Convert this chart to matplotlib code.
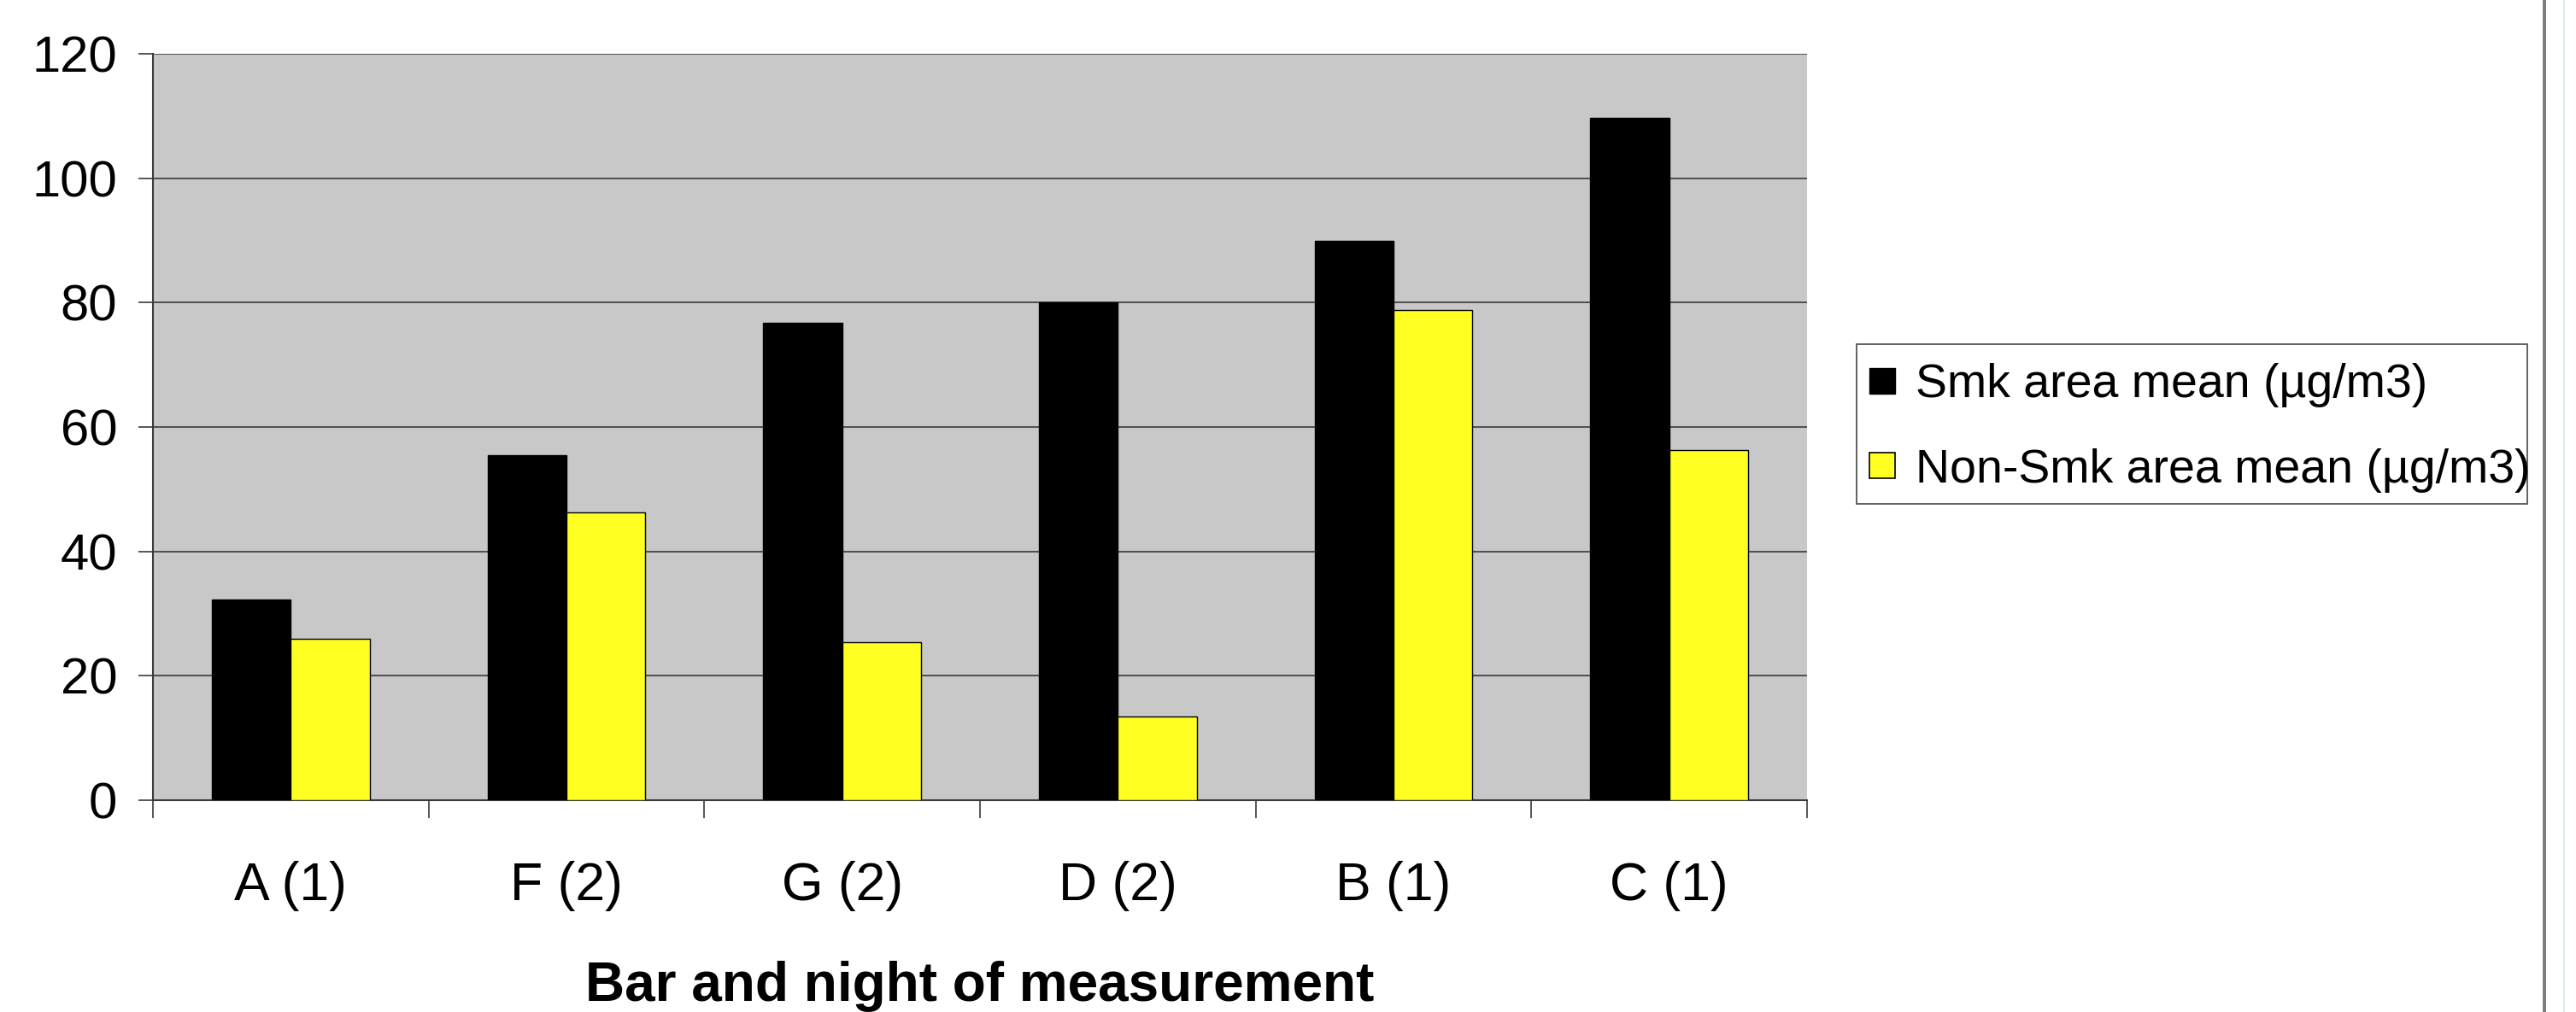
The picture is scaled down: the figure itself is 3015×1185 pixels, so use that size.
import matplotlib

matplotlib.use("Agg")
import matplotlib.pyplot as plt
import numpy as np
from matplotlib.lines import Line2D
from matplotlib.patches import Rectangle

categories = ["A (1)", "F (2)", "G (2)", "D (2)", "B (1)", "C (1)"]
smoking_means = [32.2, 55.5, 76.7, 80.1, 89.9, 109.7]
non_smoking_means = [25.9, 46.3, 25.4, 13.5, 78.8, 56.3]
series_labels = ["Smk area mean (µg/m3)", "Non-Smk area mean (µg/m3)"]
y_ticks = [0, 20, 40, 60, 80, 100, 120]

W, H = 3015, 1185


def main() -> int:
    plt.rcParams["font.family"] = ["Liberation Sans", "DejaVu Sans"]
    fig = plt.figure(figsize=(W / 100, H / 100), dpi=100)
    fig.patch.set_facecolor("white")

    ax = fig.add_axes([179 / W, 1 - 937 / H, (2115 - 179) / W, (937 - 63) / H])
    ax.set_facecolor("#c8c8c8")

    positions = np.arange(len(categories))
    width = 1 / 3.5
    ax.bar(positions - width / 2, smoking_means, width=width,
           color="black", edgecolor="black", linewidth=1.0, zorder=3)
    ax.bar(positions + width / 2, non_smoking_means, width=width,
           color="#ffff22", edgecolor="black", linewidth=1.0, zorder=3)

    ax.set_xlim(-0.5, len(categories) - 0.5)
    ax.set_ylim(0, 120)
    ax.set_yticks(y_ticks)
    ax.set_yticklabels([str(t) for t in y_ticks])
    ax.yaxis.grid(True, color="#3a3a3a", linewidth=1.2, zorder=1)
    ax.set_axisbelow(True)

    # labels sit at the middle of each group, ticks on group boundaries
    ax.set_xticks(positions)
    ax.set_xticklabels(categories)
    ax.set_xticks(np.arange(len(categories) + 1) - 0.5, minor=True)
    ax.tick_params(axis="x", which="major", length=0, pad=51, labelsize=45)
    ax.tick_params(axis="x", which="minor", length=15, width=1.2,
                   color="#3a3a3a", direction="out")
    ax.tick_params(axis="y", length=12, width=1.2, color="#3a3a3a",
                   pad=18, labelsize=43)

    for side in ("top", "right"):
        ax.spines[side].set_visible(False)
    for side in ("left", "bottom"):
        ax.spines[side].set_color("#3a3a3a")
        ax.spines[side].set_linewidth(1.5)

    ax.set_xlabel("Bar and night of measurement", fontsize=46,
                  fontweight="bold", labelpad=42)

    handles = [
        Line2D([], [], linestyle="none", marker="s", markersize=22,
               markerfacecolor="black", markeredgecolor="black"),
        Line2D([], [], linestyle="none", marker="s", markersize=22,
               markerfacecolor="#ffff22", markeredgecolor="black",
               markeredgewidth=1.2),
    ]
    fig.legend(handles, series_labels, loc="upper left",
               bbox_to_anchor=(2186 / W, 1 - 425 / H), frameon=False,
               fontsize=40, handlelength=0.6, handletextpad=0.4,
               labelspacing=0.86, borderpad=0, borderaxespad=0)
    fig.add_artist(Rectangle((2173 / W, 1 - 590 / H), (2958 - 2173) / W,
                             (590 - 403) / H, transform=fig.transFigure,
                             fill=False, edgecolor="#555555", linewidth=1.3))

    # slide border on the right
    fig.add_artist(Line2D([2978 / W, 2978 / W], [0, 1],
                          transform=fig.transFigure, color="#7a7a7a",
                          linewidth=2.8))
    fig.add_artist(Line2D([3001 / W, 3001 / W], [0, 1],
                          transform=fig.transFigure, color="#dcecf0",
                          linewidth=1.5))

    fig.savefig("out.png", dpi=100)
    plt.close(fig)
    return 0


if __name__ == "__main__":
    raise SystemExit(main())
